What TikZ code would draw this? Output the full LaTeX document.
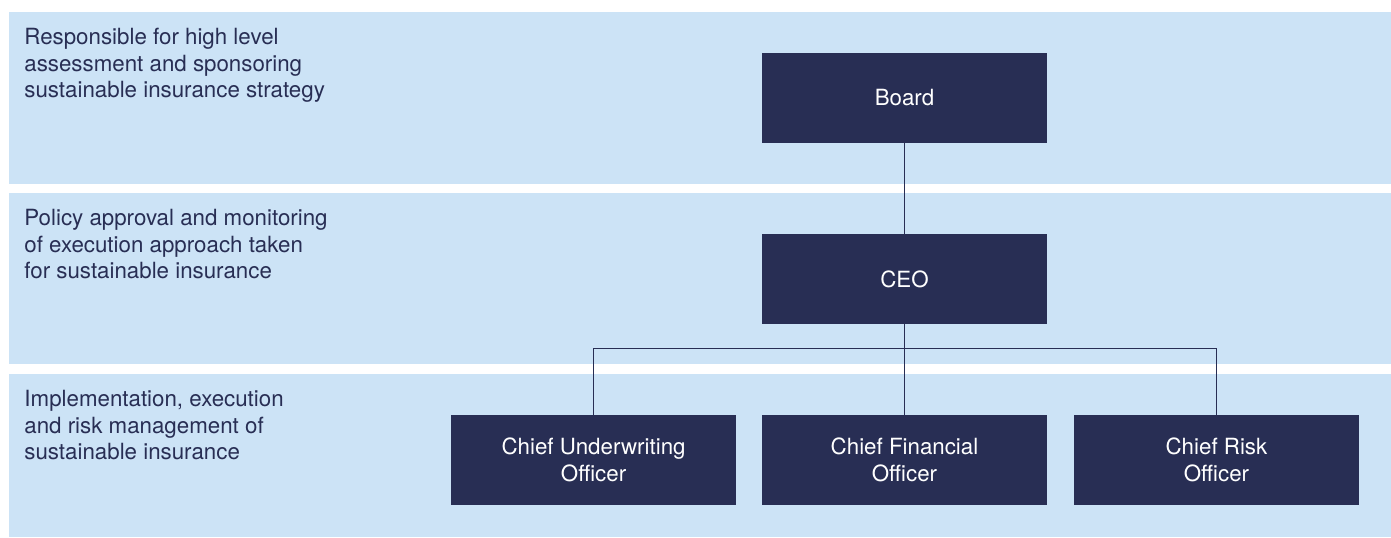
\documentclass[tikz,border=0pt]{standalone}
\usepackage{fontspec}
\setmainfont{TeX Gyre Heros}
\usepackage{xcolor}
\usetikzlibrary{positioning}
\definecolor{navy}{RGB}{40,46,84}
\definecolor{band}{RGB}{204,227,246}
\tikzset{%
	officer/.style = {fill=navy, text=white, rectangle, minimum width=5.7cm, minimum height=1.8cm, inner sep=0pt, align=center, text centered}, % Role box
	level/.style   = {fill=band}, % Level band
	remit/.style   = {text=navy, align=left, anchor=base west, inner sep=0pt}, % Level text
	link/.style    = {draw=navy, line width=0.6pt}, % Connector
}

\begin{document}
\begin{tikzpicture}[x=0.02cm,y=0.02cm,node distance=3.62cm,font=\fontsize{12.7}{15.3}\selectfont]
	\useasboundingbox (0,0) rectangle (1391,537);
	
	% levels
	\fill[level] (9,353) rectangle (1391,525);
	\fill[level] (9,173) rectangle (1391,344);
	\fill[level] (9,0) rectangle (1391,163);
	\node [remit] (remitboard) at (24,439) {Responsible for high level\\assessment and sponsoring\\sustainable insurance strategy};
	\node [remit] (remitceo) at (24,258) {Policy approval and monitoring\\of execution approach taken\\for sustainable insurance};
	\node [remit] (remitchiefs) at (24,77) {Implementation, execution\\and risk management of\\sustainable insurance};
	
	% roles
	\node [officer] (board) at (904.5,439) {Board};
	\node [officer] (ceo) [below of=board] {CEO};
	\node [officer] (cfo) [below of=ceo] {Chief Financial\\Officer};
	\node [officer] (cuo) [left of=cfo, node distance=6.22cm] {Chief Underwriting\\Officer};
	\node [officer] (cro) [right of=cfo, node distance=6.24cm] {Chief Risk\\Officer};
	\coordinate (split) at (904.5,188.5);
	
	\draw[link] (board) -- (ceo);
	\draw[link] (ceo) -- (split);
	\draw[link] (split) -- (cfo);
	\draw[link] (cuo.north) |- (split);
	\draw[link] (cro.north) |- (split);
\end{tikzpicture}
\end{document}
